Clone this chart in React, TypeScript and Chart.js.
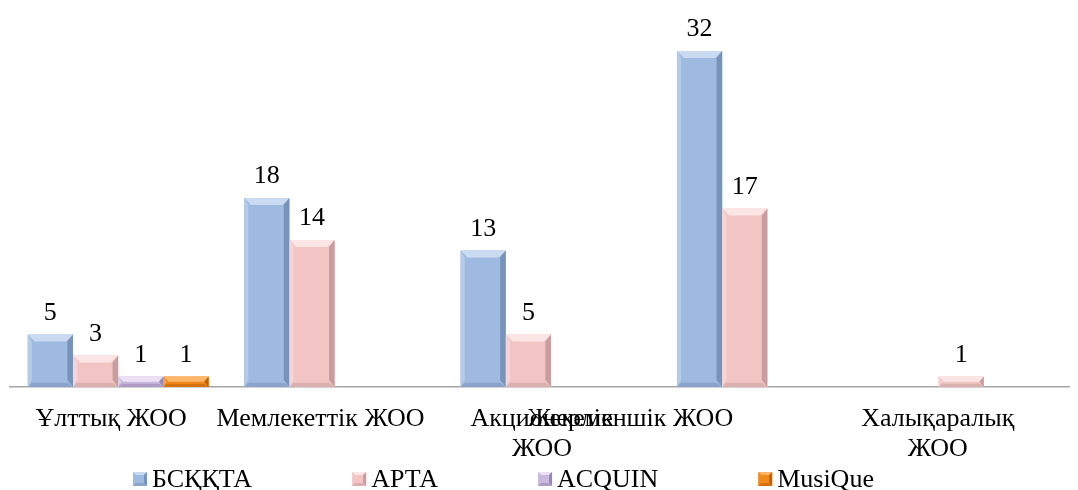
import React, { useEffect, useRef } from "react";
import { Chart, registerables } from "chart.js";

Chart.register(...registerables);

const categories = ["Ұлттық ЖОО", "Мемлекеттік ЖОО", "Акционерлік ЖОО", "Жекеменшік ЖОО", "Халықаралық ЖОО"];
const categoryLines = [["Ұлттық ЖОО"], ["Мемлекеттік ЖОО"], ["Акционерлік", "ЖОО"], ["Жекеменшік ЖОО"], ["Халықаралық", "ЖОО"]];
const seriesNames = ["БСҚҚТА", "АРТА", "ACQUIN", "MusiQue"];
const bsqqta = [5, 18, 13, 32, null];
const arta = [3, 14, 5, 17, 1];
const acquin = [1, null, null, null, null];
const musique = [1, null, null, null, null];
const yMax = 35;

const FONT = "'Liberation Serif', 'Times New Roman', serif";
const FONT_SIZE = 26;

const palettes = [
  { face: "#9EBAE0", top: "#CADBF1", left: "#B5CBE8", right: "#7893B9", bottom: "#8BA5CA" },
  { face: "#F2C4C4", top: "#FBE5E5", left: "#F7D4D4", right: "#C99D9D", bottom: "#DAB0B0" },
  { face: "#C8B9DD", top: "#EAE2F4", left: "#D9CEE9", right: "#9987B3", bottom: "#AD9CC6" },
  { face: "#F28A1C", top: "#FDB56A", left: "#F8A04A", right: "#BE630A", bottom: "#D4730F" },
];

// Excel placed the category texts slightly left of the category centres
const labelShift = [-7, -14, -9, -137, -46];

const bevelPlugin = {
  id: "bevel",
  afterDatasetsDraw(chart: any) {
    const ctx = chart.ctx;
    chart.data.datasets.forEach((ds: any, di: number) => {
      const meta = chart.getDatasetMeta(di);
      const p = palettes[di];
      meta.data.forEach((bar: any, i: number) => {
        const v = ds.data[i];
        if (v === null || v === undefined) return;
        const l = bar.x - bar.width / 2;
        const r = bar.x + bar.width / 2;
        const t = bar.y;
        const b = bar.base;
        const h = b - t;
        const bv = Math.min(7, h / 2);
        const poly = (pts: number[][], color: string) => {
          ctx.beginPath();
          ctx.moveTo(pts[0][0], pts[0][1]);
          for (let k = 1; k < pts.length; k++) ctx.lineTo(pts[k][0], pts[k][1]);
          ctx.closePath();
          ctx.fillStyle = color;
          ctx.fill();
        };
        ctx.save();
        poly([[l, t], [r, t], [r - bv, t + bv], [l + bv, t + bv]], p.top);
        poly([[l, t], [l + bv * 0.6, t + bv], [l + bv * 0.6, b - bv], [l, b]], p.left);
        poly([[r, t], [r - bv * 0.8, t + bv], [r - bv * 0.8, b - bv], [r, b]], p.right);
        poly([[l, b], [l + bv * 0.6, b - bv * 0.6], [r - bv * 0.8, b - bv * 0.6], [r, b]], p.bottom);
        ctx.fillStyle = "#000";
        ctx.font = `${FONT_SIZE}px ${FONT}`;
        ctx.textAlign = "center";
        ctx.textBaseline = "alphabetic";
        ctx.fillText(String(v), bar.x, t - 15);
        ctx.restore();
      });
    });
  },
  afterDraw(chart: any) {
    const ctx = chart.ctx;
    const xs = chart.scales.x;
    ctx.save();
    ctx.fillStyle = "#000";
    ctx.font = `${FONT_SIZE}px ${FONT}`;
    ctx.textAlign = "center";
    ctx.textBaseline = "alphabetic";
    const base = chart.chartArea.bottom;
    categoryLines.forEach((lines, i) => {
      const cx = xs.getPixelForValue(i) + labelShift[i];
      lines.forEach((line, j) => {
        ctx.fillText(line, cx, base + 39 + j * 30);
      });
    });
    // legend
    let x = 125;
    const legY = 471;
    ctx.textAlign = "left";
    seriesNames.forEach((name, i) => {
      const p = palettes[i];
      ctx.fillStyle = p.face;
      ctx.fillRect(x, legY - 7, 14, 14);
      ctx.fillStyle = p.top;
      ctx.beginPath();
      ctx.moveTo(x, legY - 7);
      ctx.lineTo(x + 14, legY - 7);
      ctx.lineTo(x + 11, legY - 4);
      ctx.lineTo(x + 3, legY - 4);
      ctx.closePath();
      ctx.fill();
      ctx.fillStyle = p.right;
      ctx.beginPath();
      ctx.moveTo(x + 14, legY - 7);
      ctx.lineTo(x + 14, legY + 7);
      ctx.lineTo(x + 11, legY + 4);
      ctx.lineTo(x + 11, legY - 4);
      ctx.closePath();
      ctx.fill();
      ctx.fillStyle = p.bottom;
      ctx.beginPath();
      ctx.moveTo(x, legY + 7);
      ctx.lineTo(x + 14, legY + 7);
      ctx.lineTo(x + 11, legY + 4);
      ctx.lineTo(x + 3, legY + 4);
      ctx.closePath();
      ctx.fill();
      ctx.fillStyle = "#000";
      ctx.fillText(name, x + 19, legY + 8);
      x += 19 + ctx.measureText(name).width + 100;
    });
    ctx.restore();
  },
};

export default function App() {
  const ref = useRef<HTMLCanvasElement | null>(null);
  useEffect(() => {
    if (!ref.current) return;
    const seriesData = [bsqqta, arta, acquin, musique];
    const chart = new Chart(ref.current, {
      type: "bar",
      data: {
        labels: categories,
        datasets: seriesNames.map((name, i) => ({
          label: name,
          data: seriesData[i],
          backgroundColor: palettes[i].face,
          borderWidth: 0,
          barPercentage: 1,
          categoryPercentage: 0.836,
        })),
      },
      options: {
        responsive: false,
        animation: false,
        layout: { padding: { left: 2, right: 0, top: 11.5, bottom: 103 } },
        plugins: { legend: { display: false }, tooltip: { enabled: false } },
        scales: {
          x: {
            grid: { display: false, drawTicks: false },
            ticks: { display: false },
            border: { display: true, color: "#A6A6A6", width: 1.5 },
          },
          y: { display: false, min: 0, max: yMax },
        },
      },
      plugins: [bevelPlugin],
    });
    return () => chart.destroy();
  }, []);
  return (
    <div style={{ width: 1070, height: 482, overflow: "hidden" }}>
      <canvas ref={ref} width={1084} height={482} style={{ display: "block" }} />
    </div>
  );
}
